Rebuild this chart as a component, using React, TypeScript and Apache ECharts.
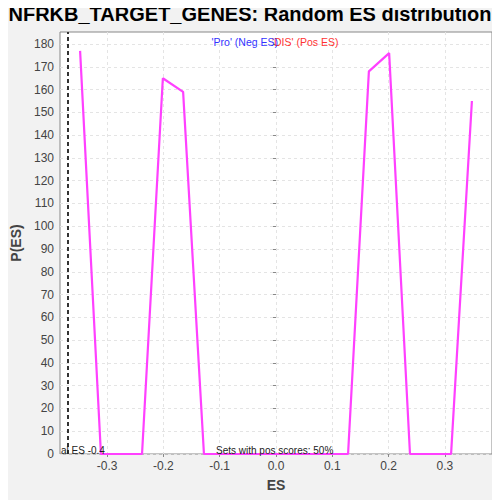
import React, { useEffect, useRef } from "react";
import * as echarts from "echarts";

const esBins = [-0.348, -0.311, -0.275, -0.238, -0.201, -0.165, -0.128, -0.091, -0.055, -0.018, 0.018, 0.055, 0.091, 0.128, 0.165, 0.201, 0.238, 0.275, 0.311, 0.348];
const density = [177, 0, 0, 0, 165, 159, 0, 0, 0, 0, 0, 0, 0, 0, 168, 176, 0, 0, 0, 155];
const xTicks = [-0.3, -0.2, -0.1, 0.0, 0.1, 0.2, 0.3];
const yTicks = [0, 10, 20, 30, 40, 50, 60, 70, 80, 90, 100, 110, 120, 130, 140, 150, 160, 170, 180];
const actualES = -0.368;
const xRange = [-0.3837, 0.3837];
const yRange = [0, 185.3];

export default function App() {
  const ref = useRef<HTMLDivElement>(null);
  useEffect(() => {
    const chart = echarts.init(ref.current!, null, { renderer: "svg" });
    const font = "Liberation Sans";
    chart.setOption({
      animation: false,
      backgroundColor: "#f2f2f2",
      textStyle: { fontFamily: font },
      grid: {
        left: 60, top: 32, right: 8, bottom: 46,
        show: true, backgroundColor: "#ffffff", borderColor: "#888888", borderWidth: 1,
      },
      xAxis: {
        type: "value", min: xRange[0], max: xRange[1],
        name: "ES", nameLocation: "middle", nameGap: 24,
        nameTextStyle: { fontSize: 14, fontWeight: "bold", color: "#444", fontFamily: font },
        axisLine: { show: false },
        axisTick: { show: true, length: 3, lineStyle: { color: "#888" }, customValues: xTicks },
        axisLabel: { customValues: xTicks, fontSize: 12, color: "#444", margin: 6, fontFamily: font, formatter: (v: number) => v.toFixed(1) },
        splitLine: { show: true, lineStyle: { color: "#e4e4e4", type: [3, 3] } },
      },
      yAxis: {
        type: "value", min: yRange[0], max: yRange[1],
        name: "P(ES)", nameLocation: "middle", nameGap: 31,
        nameTextStyle: { fontSize: 14, fontWeight: "bold", color: "#444", fontFamily: font },
        axisLine: { show: false },
        axisTick: { show: true, length: 3, lineStyle: { color: "#888" }, customValues: yTicks },
        axisLabel: { customValues: yTicks, fontSize: 12, color: "#444", margin: 6, fontFamily: font },
        splitLine: { show: true, lineStyle: { color: "#e4e4e4", type: [3, 3] } },
      },
      graphic: [
        { type: "text", left: "center", top: 4, style: { text: "NFRKB_TARGET_GENES: Random ES distribution", font: `bold 20px "${font}"`, fill: "#000" } },
        { type: "text", x: 272, y: 42, style: { text: "'DIS' (Pos ES)", font: `10.5px "${font}"`, fill: "#ff3333", verticalAlign: "middle" }, z: 10 },
        { type: "text", x: 278, y: 42, style: { text: "'Pro' (Neg ES)", font: `10.5px "${font}"`, fill: "#3333ff", align: "right", verticalAlign: "middle" }, z: 11 },
        { type: "text", x: 216, y: 450, style: { text: "Sets with pos scores: 50%", font: `10px "${font}"`, fill: "#222", verticalAlign: "middle" }, z: 10 },
        { type: "text", x: 61, y: 450, style: { text: "al ES -0.4", font: `10px "${font}"`, fill: "#222", verticalAlign: "middle" }, z: 10 },
      ],
      series: [
        {
          type: "line",
          data: esBins.map((x, i) => [x, density[i]]),
          showSymbol: false,
          lineStyle: { color: "#ff40ff", width: 2.2 },
          itemStyle: { color: "#ff40ff" },
          clip: true,
          markLine: {
            silent: true, symbol: "none", label: { show: false },
            lineStyle: { color: "#333", type: [4, 3], width: 2 },
            data: [{ xAxis: actualES }],
          },
        },
      ],
    });
    return () => chart.dispose();
  }, []);
  return <div ref={ref} style={{ width: 500, height: 500, marginLeft: -8, marginTop: -8 }} />;
}
